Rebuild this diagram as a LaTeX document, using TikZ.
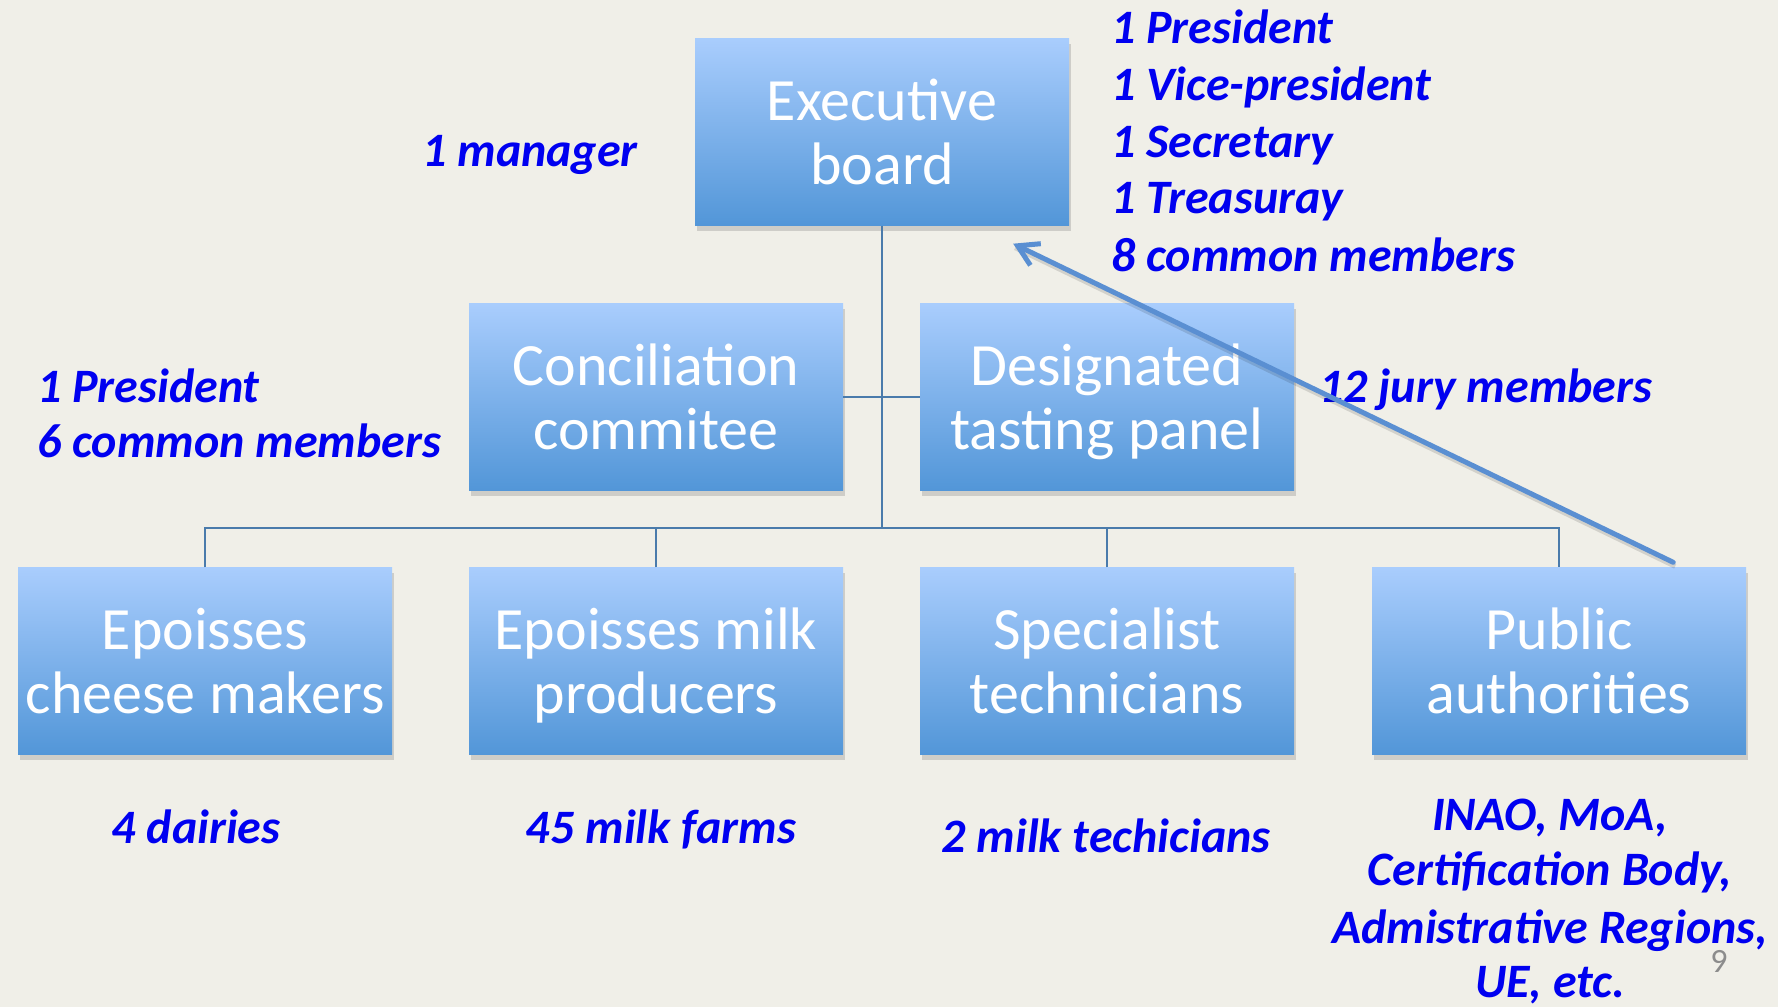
\documentclass[tikz,border=0pt]{standalone}
\usepackage{fontspec}
\setmainfont{Carlito}
\usetikzlibrary{shadows,arrows.meta,calc}
\definecolor{bg}{RGB}{240,239,232}
\definecolor{boxtop}{RGB}{169,205,253}
\definecolor{boxbot}{RGB}{82,150,216}
\definecolor{conn}{RGB}{74,123,171}
\definecolor{arr}{RGB}{90,143,210}
\definecolor{lbl}{RGB}{0,0,240}
\definecolor{pgnum}{RGB}{140,140,140}
\tikzset{
  orgbox/.style={minimum width=374pt, minimum height=187pt, inner sep=0pt,
    top color=boxtop, bottom color=boxbot, draw=none, text=white, align=center,
    font=\fontsize{60}{64}\selectfont, text height=104pt, text depth=0pt,
    drop shadow={shadow xshift=2pt, shadow yshift=-5pt, opacity=0.3}},
  note/.style={text=lbl, font=\fontsize{48}{56}\selectfont\bfseries\itshape, inner sep=0pt},
  conline/.style={draw=conn, line width=2.5pt},
  arrline/.style={draw=arr, line width=5pt, line cap=round,
    -{Straight Barb[length=20pt, width=24pt, line width=5pt]}},
}
\begin{document}
\begin{tikzpicture}[x=1pt,y=-1pt]
\fill[bg] (0,0) rectangle (1778,1007);
\useasboundingbox (0,0) rectangle (1778,1007);

% boxes
\node[orgbox] (exec) at (882,132) {Executive\\board};
\node[orgbox] (conc) at (656,397) {Conciliation\\commitee};
\node[orgbox] (desig) at (1107,397) {Designated\\tasting panel};
\node[orgbox] (ecm) at (205,661) {Epoisses\\cheese makers};
\node[orgbox] (emp) at (656,661) {Epoisses milk\\producers};
\node[orgbox] (spec) at (1107,661) {Specialist\\technicians};
\node[orgbox] (pub) at (1559,661) {Public\\authorities};

% connectors
\coordinate (busy) at (0,528);
\draw[conline] (exec.south) -- (exec.south |- busy);
\draw[conline] (conc.east) -- (desig.west);
\draw[conline] (ecm.north) -- (ecm.north |- busy) -- (pub.north |- busy) -- (pub.north);
\draw[conline] (emp.north) -- (emp.north |- busy);
\draw[conline] (spec.north) -- (spec.north |- busy);

% labels
\node[note, anchor=base] (mgr) at (530,166) {1 manager};
\node[note, anchor=base west] (r1) at (1111,43) {1 President};
\node[note, anchor=base west] (r2) at (1111,100) {1 Vice-president};
\node[note, anchor=base west] (r3) at (1111,157) {1 Secretary};
\node[note, anchor=base west] (r4) at (1111,213) {1 Treasuray};
\node[note, anchor=base west] (r5) at (1111,271) {8 common members};
\node[note, anchor=base west] (l1) at (37,402) {1 President};
\node[note, anchor=base west] (l2) at (37,457) {6 common members};
\node[note, anchor=base west] (jury) at (1319,402) {12 jury members};
\node[note, anchor=base] (dai) at (196,843) {4 dairies};
\node[note, anchor=base] (farms) at (661,843) {45 milk farms};
\node[note, anchor=base] (tech) at (1106,852) {2 milk techicians};
\node[note, anchor=base] (pa1) at (1550,830) {INAO, MoA,};
\node[note, anchor=base] (pa2) at (1550,885) {Certification Body,};
\node[note, anchor=base] (pa3) at (1550,943) {Admistrative Regions,};
\node[note, anchor=base] (pa4) at (1550,997) {UE, etc.};
\node[text=pgnum, font=\fontsize{34}{36}\selectfont, anchor=base, inner sep=0pt] (pg) at (1719,972) {9};

% arrow
\coordinate (atail) at ($(pub.north east)+(-73,-5)$);
\coordinate (atip) at ($(exec.south east)+(-56,18)$);
\draw[black, opacity=0.12, line width=5pt] ($(atail)+(2,4)$) -- ($(atip)+(2,4)$);
\draw[arrline] (atail) -- (atip);
\end{tikzpicture}
\end{document}
